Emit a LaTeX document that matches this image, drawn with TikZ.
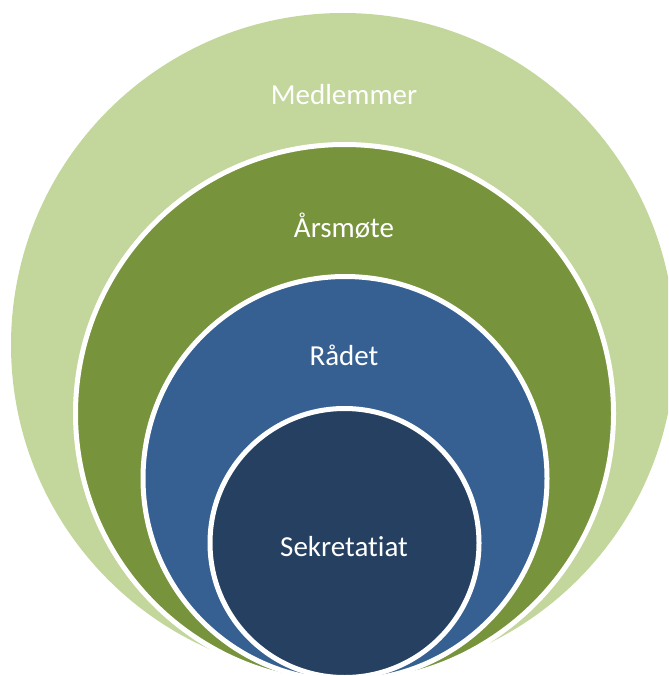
\documentclass[tikz,border=0pt]{standalone}
\usepackage{fontspec}
\setmainfont{Carlito}[Ligatures=NoCommon]
\usepackage{tikz}

\definecolor{lightgreen}{HTML}{C3D69B}
\definecolor{olivegreen}{HTML}{77933C}
\definecolor{steelblue}{HTML}{366092}
\definecolor{navyblue}{HTML}{254061}

\begin{document}
\begin{tikzpicture}[
        x=1pt, y=-1pt,
        ring/.style={
            circle,
            inner sep=0pt,
            draw=white,
            line width=5pt
        },
        label/.style={
            text=white,
            font=\fontsize{29}{35}\selectfont
        }
    ]
        % Page
        \useasboundingbox (0,0) rectangle (668,676);
        \clip (0,0) rectangle (668,676);

        % Circles
        \node[circle, inner sep=0pt, fill=lightgreen, minimum size=664pt] (medlemmer) at (343,345) {};
        \node[ring, fill=olivegreen, minimum size=538pt] (arsmote) at (344.5,413.5) {};
        \node[ring, fill=steelblue, minimum size=404pt] (radet) at (345,478.5) {};
        \node[ring, fill=navyblue, minimum size=269pt] (sekretariat) at (344.5,543) {};

        % Labels
        \node[label] (medlemmertext) at (344,95) {Medlemmer};
        \node[label] (arsmotetext) at (344,226) {Årsmøte};
        \node[label] (radettext) at (344,355) {Rådet};
        \node[label] (sekretariattext) at (344,547) {Sekretatiat};

    \end{tikzpicture}
\end{document}
